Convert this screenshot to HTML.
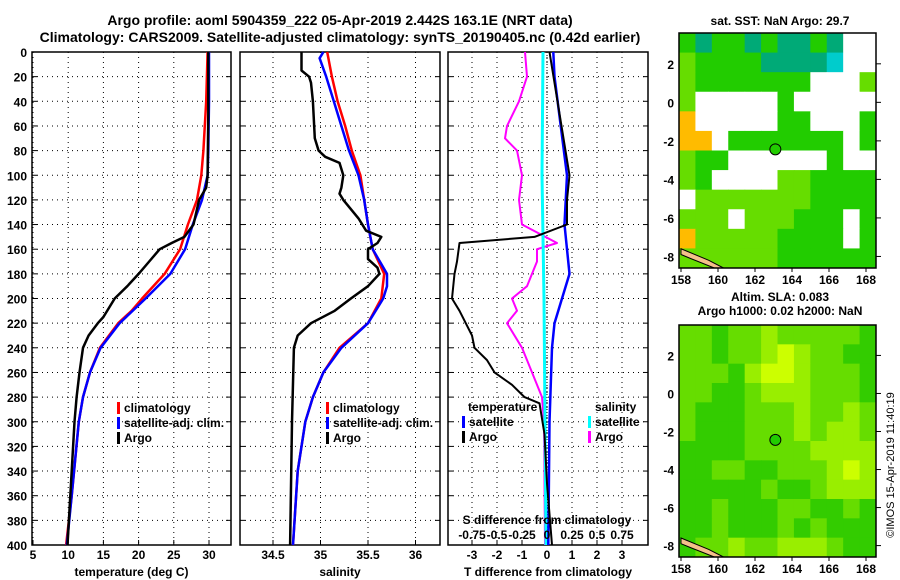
<!DOCTYPE html>
<html><head><meta charset="utf-8">
<style>
body{margin:0;background:#fff;}
svg{display:block;font-family:"Liberation Sans",sans-serif;font-weight:bold;}
</style></head>
<body>
<svg id="c" width="900" height="580" viewBox="0 0 900 580">
<text x="340" y="25" font-size="14" text-anchor="middle">Argo profile: aoml 5904359_222 05-Apr-2019 2.442S 163.1E (NRT data)</text>
<text x="340" y="42" font-size="14" text-anchor="middle">Climatology: CARS2009. Satellite-adjusted climatology: synTS_20190405.nc (0.42d earlier)</text>
<text x="780" y="25" font-size="12" text-anchor="middle">sat. SST: NaN Argo: 29.7</text>
<text x="780" y="301" font-size="12" text-anchor="middle">Altim. SLA: 0.083</text>
<text x="780" y="315" font-size="12" text-anchor="middle">Argo h1000: 0.02 h2000: NaN</text>
<text transform="translate(894,465) rotate(-90)" font-size="11" font-weight="normal" text-anchor="middle">©IMOS 15-Apr-2019 11:40:19</text>
</svg>
<script>
// ---- data ----
const depthTicks=[0,20,40,60,80,100,120,140,160,180,200,220,240,260,280,300,320,340,360,380,400];
const tTicks=[5,10,15,20,25,30];
const sTicks=[34.5,35,35.5,36];
const dTTicks=[-3,-2,-1,0,1,2,3];
const dSTickLabels=["-0.75","-0.5","-0.25","0","0.25","0.5","0.75"];
const dSTicks=[-0.75,-0.5,-0.25,0,0.25,0.5,0.75];
const tClimD=[0,40,80,100,120,140,160,180,200,210,220,240,260,280,300,360,400];
const tClim=[29.8,29.6,29.2,28.9,28.3,27.0,25.9,23.7,20.5,19.0,17.1,14.5,13.1,12.1,11.5,10.5,9.7];
const tSatD=[0,40,80,100,120,140,160,180,200,220,240,260,280,300,360,400];
const tSat=[30.0,30.0,29.9,29.8,29.0,27.7,26.6,24.5,21.0,17.3,14.6,13.1,12.1,11.5,10.5,9.8];
const tArgoD=[0,50,100,110,120,140,150,155,160,170,180,190,200,215,220,230,240,260,280,300,360,400];
const tArgo=[29.9,29.9,29.8,29.6,28.6,27.8,26.5,24.7,23.0,21.5,20.0,18.4,16.6,15.0,14.2,12.9,12.1,11.6,11.2,10.9,10.3,9.9];
const sClimD=[0,20,40,60,80,100,120,140,160,180,200,220,240,260,280,300,340,400];
const sClim=[35.07,35.12,35.18,35.26,35.33,35.42,35.46,35.5,35.55,35.67,35.64,35.5,35.2,35.03,34.92,34.84,34.76,34.71];
const sSatD=[0,5,20,40,60,80,100,120,140,160,180,190,200,220,240,260,280,300,340,400];
const sSat=[35.03,34.99,35.06,35.14,35.22,35.3,35.4,35.46,35.5,35.55,35.7,35.7,35.66,35.5,35.22,35.03,34.92,34.84,34.76,34.71];
const sArgoD=[0,15,20,25,40,70,80,85,90,100,110,115,120,135,145,150,155,160,168,175,180,190,200,210,220,230,240,300,400];
const sArgo=[34.8,34.8,34.88,34.9,34.92,34.94,34.98,35.05,35.2,35.24,35.22,35.2,35.24,35.4,35.48,35.64,35.6,35.5,35.5,35.6,35.62,35.5,35.32,35.15,34.9,34.76,34.72,34.7,34.68];
const dTSatD=[0,20,100,140,160,180,200,220,240,300,400];
const dTSat=[0.25,0.3,0.8,0.7,0.8,0.9,0.6,0.3,0.2,0.1,0.05];
const dTArgoD=[0,100,120,140,150,155,170,180,200,210,230,240,250,260,270,280,285,310,350,400];
const dTArgo=[0.1,0.9,0.8,0.8,-0.5,-3.5,-3.6,-3.7,-3.8,-3.5,-3.0,-2.9,-2.4,-2.1,-1.4,-0.9,-0.3,-0.1,0.0,0.2];
const dSSatD=[0,100,200,300,400];
const dSSat=[-0.04,-0.05,-0.03,-0.02,-0.01];
const dSArgoD=[0,20,40,60,70,80,100,120,140,155,160,170,190,200,210,220,240,260,280,300,400];
const dSArgo=[-0.22,-0.2,-0.28,-0.4,-0.42,-0.3,-0.25,-0.28,-0.25,0.1,-0.1,-0.1,-0.2,-0.35,-0.3,-0.4,-0.25,-0.15,-0.05,-0.03,-0.02];
const latTicks=[2,0,-2,-4,-6,-8];
const lonTicks=[158,160,162,164,166,168];
const sstGrid=["gtggtgttgtww","lggggttttcww","lgggggggwwwl","lwwwwwgwwwww","owwwwwggwwwg","oowgggggggwg","lggwwwwwwgww","lgwwwwllgggg","wlllllllgggg","lllwlllgggwg","olllllggggwg","llllllgggggg"];
const slaGrid=["llgllylllllg","llgllyYyllgg","lllgyYYylllg","llgglyyylllg","lggglllyllyl","lggglllylyyl","ggggllllyyyy","ggllgglllyYy","ggggglgglyyy","gglgggllgglg","gglggglglggg","gllyllyyylgg"];
const argoLon=163.1, argoLat=-2.44;
// ---- drawing ----
const svg=document.getElementById('c');const NS="http://www.w3.org/2000/svg";
function el(t,a,p){const e=document.createElementNS(NS,t);for(const k in a)e.setAttribute(k,a[k]);(p||svg).appendChild(e);return e;}
function txt(x,y,s,a,p){const e=el('text',Object.assign({x:x,y:y,'font-size':12},a||{}),p);e.textContent=s;return e;}
const Y0=52,Y1=545;const yD=d=>Y0+d/400*(Y1-Y0);
function panel(name,x0,x1,xf,xticks,xlabels,title){
 const g=el('g',{});
 
 
 xticks.forEach(v=>{const x=xf(v);el('line',{x1:x,x2:x,y1:Y0,y2:Y1,stroke:'#000','stroke-dasharray':'1,4'},g);el('line',{x1:x,x2:x,y1:Y1,y2:Y1-5,stroke:'#000'},g);});
 xlabels.forEach((l,i)=>{const t=txt(xf(xticks[i]),559,l,{'text-anchor':'middle'},g);});
 depthTicks.forEach(d=>{const y=yD(d);el('line',{x1:x0,x2:x1,y1:y,y2:y,stroke:'#000','stroke-dasharray':'1,4'},g);el('line',{x1:x0,x2:x0+5,y1:y,y2:y,stroke:'#000'},g);el('line',{x1:x1,x2:x1-5,y1:y,y2:y,stroke:'#000'},g);});
 el('rect',{x:x0,y:Y0,width:x1-x0,height:Y1-Y0,fill:'none',stroke:'#000','stroke-width':1.5},g);
 const tt=txt((x0+x1)/2,576,title,{'text-anchor':'middle'},g);
 return g;}
function line(g,xs,ds,xf,col,name,w){const pts=xs.map((v,i)=>xf(v).toFixed(1)+','+yD(ds[i]).toFixed(1)).join(' ');const p=el('polyline',{points:pts,fill:'none',stroke:col,'stroke-width':w||2.5,'stroke-linejoin':'round'},g);}
function legend(g,x,y,items){items.forEach((it,i)=>{el('rect',{x:x,y:y+i*15-10,width:3,height:12,fill:it[0]},g);const t=txt(x+7,y+i*15,it[1],{},g);});}
// depth labels
depthTicks.forEach(d=>{const t=txt(27,yD(d)+5,String(d),{'text-anchor':'end'});});
// panel 1
const xT=v=>33+(v-5)*7.04;
const g1=panel('temperature-panel',32,231,xT,tTicks,tTicks.map(String),'temperature (deg C)');
line(g1,tClim,tClimD,xT,'#f00','climatology-temperature-line');
line(g1,tSat,tSatD,xT,'#00f','satellite-temperature-line');
line(g1,tArgo,tArgoD,xT,'#000','argo-temperature-line');
legend(g1,117,412,[['#f00','climatology'],['#00f','satellite-adj. clim.'],['#000','Argo']]);
// panel 2
const xS=v=>273+(v-34.5)*95;
const g2=panel('salinity-panel',240,440,xS,sTicks,sTicks.map(String),'salinity');
line(g2,sClim,sClimD,xS,'#f00','climatology-salinity-line');
line(g2,sSat,sSatD,xS,'#00f','satellite-salinity-line');
line(g2,sArgo,sArgoD,xS,'#000','argo-salinity-line');
legend(g2,326,412,[['#f00','climatology'],['#00f','satellite-adj. clim.'],['#000','Argo']]);
// panel 3
const xDT=v=>547+v*25, xDS=v=>547+v*100;
const g3=panel('difference-panel',448,648,xDT,dTTicks,dTTicks.map(String),'T difference from climatology');
el('line',{x1:547,x2:547,y1:Y0,y2:Y1,stroke:'#000','stroke-dasharray':'1,2'},g3);
line(g3,dSArgo,dSArgoD,xDS,'#f0f','argo-salinity-diff-line',2);
line(g3,dSSat,dSSatD,xDS,'#0ff','satellite-salinity-diff-line',3);
line(g3,dTSat,dTSatD,xDT,'#00f','satellite-temperature-diff-line');
line(g3,dTArgo,dTArgoD,xDT,'#000','argo-temperature-diff-line',2);
txt(468,411,'temperature',{},g3);txt(595,411,'salinity',{},g3);
legend(g3,462,426,[['#00f','satellite'],['#000','Argo']]);
legend(g3,588,426,[['#0ff','satellite'],['#f0f','Argo']]);
txt(547,524,'S difference from climatology',{'text-anchor':'middle'},g3);
dSTicks.forEach((v,i)=>{txt(xDS(v),539,dSTickLabels[i],{'text-anchor':'middle'},g3);});
// maps
const cols={g:'#22cc00',l:'#66dd00',y:'#aaee00',Y:'#ccff00',o:'#ffbb00',t:'#00aa77',c:'#00cccc',w:'#ffffff'};
const colsSla={g:'#33cc00',l:'#66dd00',y:'#99ee00',Y:'#ccff00'};
function map(name,top,bot,grid,pal){
 const X0=679,X1=876;const g=el('g',{});
 
 
 const lonF=v=>681+(v-158)*18.5;const lat0=2,latTopY=top+(bot-top)*((3.6-2)/12.2);
 const latF=v=>top+(3.6-v)/12.2*(bot-top);
 const nr=grid.length,nc=grid[0].length,cw=(X1-X0)/nc,ch=(bot-top)/nr;
 grid.forEach((r,i)=>{for(let j=0;j<nc;j++){const c=el('rect',{x:X0+j*cw,y:top+i*ch,width:cw+0.5,height:ch+0.5,fill:pal[r[j]]},g);}});
 el('polygon',{points:[[158,-7.6],[159.5,-8.2],[160.3,-8.6],[159.8,-8.6],[158.5,-8.1],[158,-7.9]].map(p=>lonF(p[0])+','+latF(p[1])).join(' '),fill:'#f4c08a',stroke:'#000'},g);
 const cc=el('circle',{cx:lonF(argoLon),cy:latF(argoLat),r:5.5,fill:'#22cc00',stroke:'#000'},g);
 el('rect',{x:X0,y:top,width:X1-X0,height:bot-top,fill:'none',stroke:'#000','stroke-width':1.5},g);
 latTicks.forEach(v=>{const y=latF(v);el('line',{x1:X1,x2:X1+5,y1:y,y2:y,stroke:'#000'},g);txt(X0-5,y+5,String(v),{'text-anchor':'end'},g);});
 lonTicks.forEach(v=>{const x=lonF(v);el('line',{x1:x,x2:x,y1:bot,y2:bot+4,stroke:'#000'},g);txt(x,bot+16,String(v),{'text-anchor':'middle'},g);});
}
map('sst-map',33,268,sstGrid,cols);
map('sla-map',325,557,slaGrid,colsSla);
</script>
</body></html>
